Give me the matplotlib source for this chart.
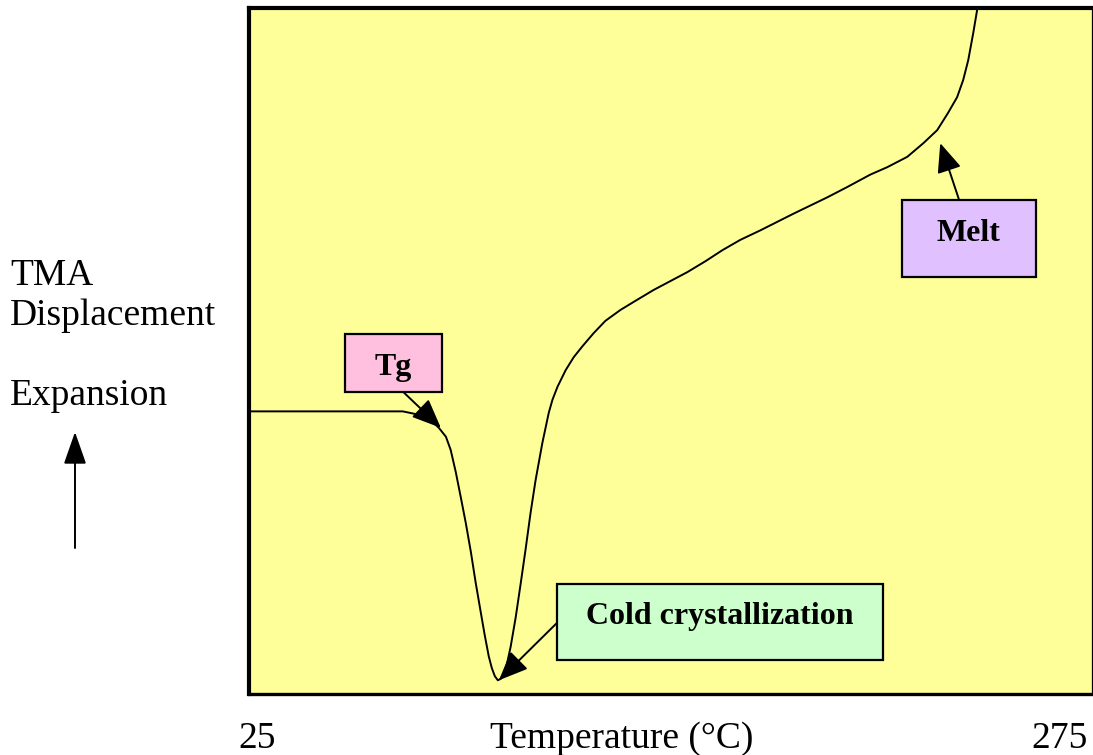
import numpy as np
import matplotlib
matplotlib.use("Agg")
import matplotlib.pyplot as plt
from matplotlib.patches import Rectangle

plt.rcParams['font.family'] = ['Liberation Serif', 'DejaVu Serif']

# TMA trace (temperature in C, displacement in arbitrary units 0-100)
temp = [25.6, 70.6, 74.5, 78.3, 81.3, 83.4, 84.8, 86.3, 87.8, 89.3, 90.8, 92.2, 93.7,
        94.9, 96.1, 97.0, 97.9, 98.8, 99.6, 100.5, 101.1, 102.6, 104.1, 105.6, 107.0,
        108.5, 110.0, 112.0, 113.9, 115.0, 116.5, 118.9, 121.3, 123.9, 127.2, 130.7,
        135.2, 139.9, 145.0, 150.0, 155.0, 160.4, 165.4, 170.7, 176.7, 186.4, 196.5,
        202.4, 209.2, 214.3, 220.2, 225.0, 229.1, 232.3, 235.0, 236.8, 238.3, 239.8, 241.2]
disp = [41.2, 41.2, 40.8, 40.2, 38.8, 37.5, 35.6, 32.4, 28.7, 24.9, 20.7, 16.3, 12.0,
        8.6, 5.5, 3.8, 2.6, 2.0, 2.2, 2.9, 3.5, 6.9, 11.2, 16.2, 21.0,
        26.4, 31.2, 36.6, 41.0, 42.9, 44.8, 47.2, 49.1, 50.7, 52.6, 54.4,
        56.0, 57.4, 58.9, 60.2, 61.5, 63.1, 64.7, 66.2, 67.6, 70.0, 72.4,
        73.9, 75.7, 76.8, 78.3, 80.3, 82.2, 84.7, 87.0, 89.5, 92.4, 96.4, 100.5]

x_range = [25, 275]
x_label = "Temperature (\u00b0C)"
y_label = ["TMA", "Displacement", "", "Expansion"]

# callouts: text, box (x0, y0, x1, y1), text pos, arrow start, arrow tip, colour
callouts = [
  ("Tg", (53.4, 44.0, 82.2, 52.5), (67.8, 47.6), (70.8, 44.0), (81.9, 38.8), "#ffc0e0"),
  ("Melt", (218.7, 60.8, 258.4, 72.0), (238.3, 67.1), (235.6, 72.0), (230.0, 80.3), "#e0c0ff"),
  ("Cold crystallization", (116.2, 5.0, 213.1, 16.0), (164.5, 11.3), (116.2, 10.3), (99.1, 2.0), "#ccffcc"),
]

W, H = 1093, 755
fig = plt.figure(figsize=(W / 100, H / 100), dpi=100)
ax = fig.add_axes([249 / W, 1 - 694 / H, (1092 - 249) / W, (694 - 8) / H])
ax.set_facecolor("#ffff99")
ax.plot(temp, disp, color="black", lw=1.4, solid_joinstyle="round")
ax.set_xlim(*x_range)
ax.set_ylim(0, 100)
ax.set_xticks([])
ax.set_yticks([])
ax.spines["left"].set_linewidth(3.0)
ax.spines["top"].set_linewidth(3.0)
ax.spines["bottom"].set_linewidth(2.4)
ax.spines["right"].set_linewidth(0.9)

for txt, box, tpos, start, tip, col in callouts:
  ax.add_patch(Rectangle((box[0], box[1]), box[2] - box[0], box[3] - box[1],
                         facecolor=col, edgecolor="black", lw=1.6, zorder=3))
  ax.text(tpos[0], tpos[1], txt, ha="center", va="center", fontsize=23,
          fontweight="bold", zorder=4)
  ax.annotate("", xy=tip, xytext=start,
              arrowprops=dict(arrowstyle="-|>,head_length=0.9,head_width=0.38",
                              mutation_scale=20, color="black", lw=1.4,
                              shrinkA=0, shrinkB=0), zorder=4)

# axis texts
fig.text(257 / W, 1 - 748 / H, str(x_range[0]), ha="center", va="baseline", fontsize=27)
fig.text(1060 / W, 1 - 748 / H, str(x_range[1]), ha="center", va="baseline", fontsize=27)
fig.text(622 / W, 1 - 748 / H, x_label, ha="center", va="baseline", fontsize=27)
for i, line in enumerate(y_label):
  if line:
    fig.text(10 / W, 1 - (285 + 40 * i) / H, line, ha="left", va="baseline", fontsize=27)

fig.add_artist(plt.Annotation("", xy=(75, H - 432), xytext=(75, H - 548),
                              xycoords="figure pixels", textcoords="figure pixels",
                              arrowprops=dict(arrowstyle="-|>,head_length=1.0,head_width=0.35",
                                              mutation_scale=20, color="black", lw=1.4,
                                              shrinkA=0, shrinkB=0)))

fig.savefig("out.png", dpi=100)
